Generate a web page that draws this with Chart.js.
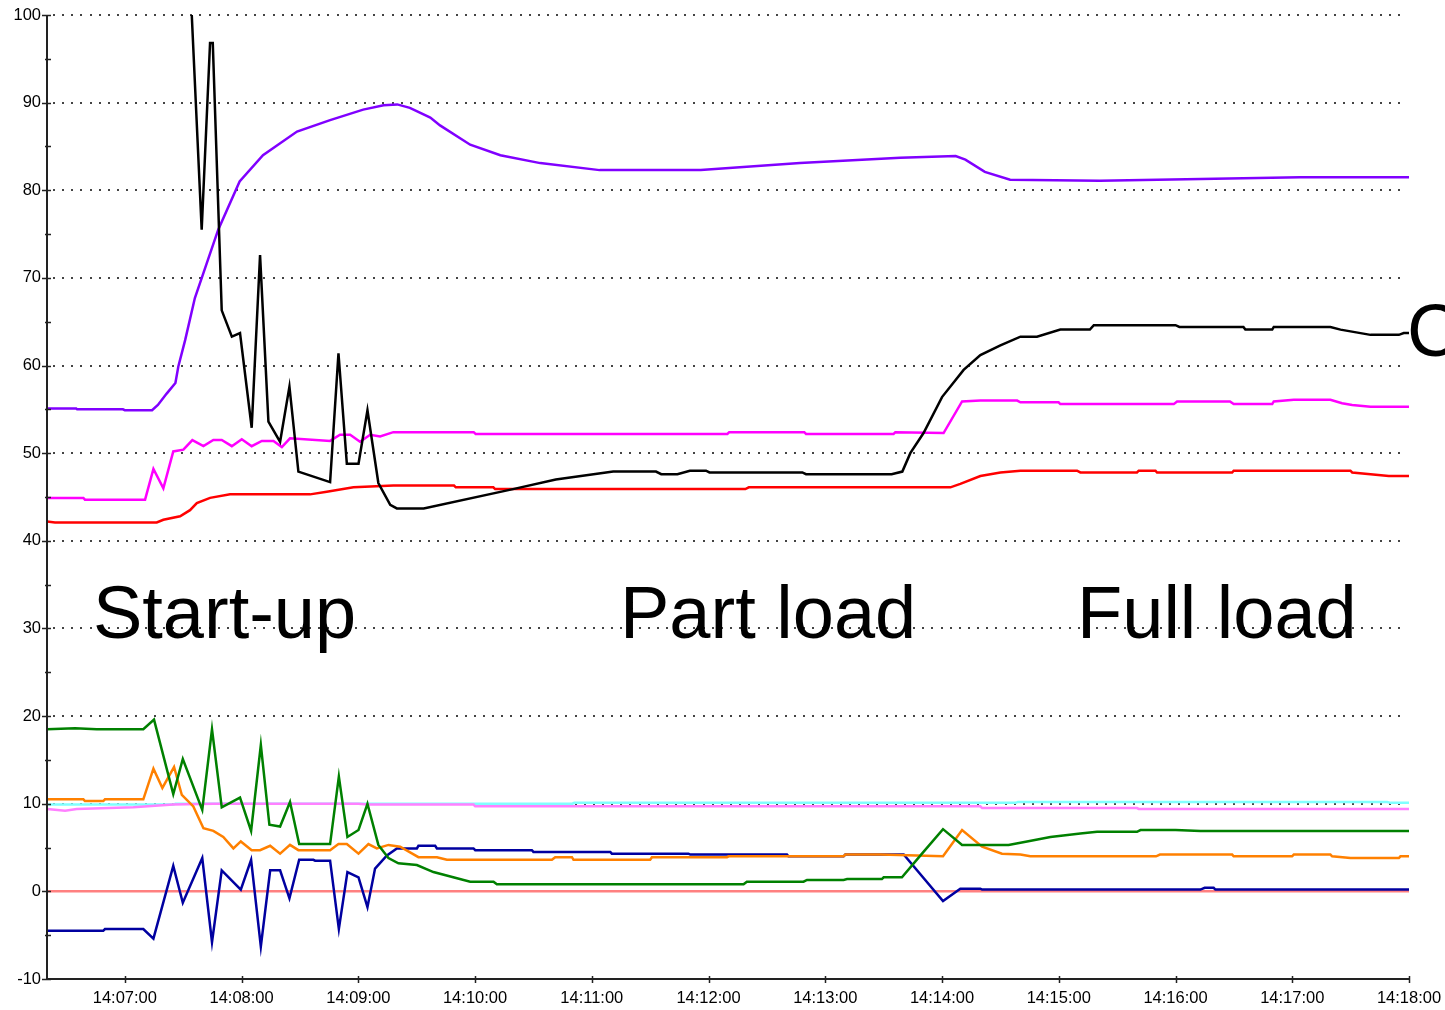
<!DOCTYPE html>
<html>
<head>
<meta charset="utf-8">
<title>Start-up / Part load / Full load</title>
<script src="https://cdn.jsdelivr.net/npm/chart.js@4.4.1/dist/chart.umd.min.js"></script>
<style>
  html, body { margin: 0; padding: 0; background: #fff; }
  #wrap { width: 1445px; height: 1010px; position: relative; }
</style>
</head>
<body>
<div id="wrap"><canvas id="trendChart"></canvas></div>
<script>
// time axis in seconds after 14:00:00, values as [t, value]
const xTicks = [420, 480, 540, 600, 660, 720, 780, 840, 900, 960, 1020, 1080];
const xTickLabels = ["14:07:00", "14:08:00", "14:09:00", "14:10:00", "14:11:00", "14:12:00",
  "14:13:00", "14:14:00", "14:15:00", "14:16:00", "14:17:00", "14:18:00"];

const violetLine = [[380,55.1],[395,55.1],[395.5,55.0],[419,55.0],[420,54.9],[434,54.9],[437,55.5],
  [441.5,56.8],[446,58.0],[447.5,59.9],[451,62.9],[456,67.7],[468,75.5],[479,81.0],[491,84.0],
  [508.5,86.7],[525.5,88.0],[542.5,89.2],[553,89.7],[560,89.8],[566.5,89.4],[577,88.3],[582,87.4],
  [597.5,85.2],[613,84.0],[633.5,83.1],[664,82.3],[716,82.3],[767,83.1],[818.5,83.7],[847,83.9],
  [852,83.5],[862,82.1],[875,81.2],[921,81.1],[973,81.3],[1024,81.5],[1080,81.5]];

const blackLine = [[453,103],[454.4,100],[459.5,75.5],[463.8,96.8],[465.2,96.8],[469.8,66.3],
  [475,63.3],[479.2,63.7],[485.2,52.9],[489.5,72.6],[493.8,53.6],[499.8,51.3],[504.6,57.6],
  [509.2,47.9],[525.5,46.7],[529.8,61.4],[534.1,48.8],[540.1,48.8],[544.7,54.9],[550.3,46.6],
  [556.4,44.1],[559.8,43.7],[573.6,43.7],[619.5,45.9],[641.5,47.0],[671,47.9],[693,47.9],
  [695.7,47.6],[704,47.6],[710.4,48.0],[718.7,48.0],[720.5,47.8],[768.2,47.8],[770.1,47.6],
  [814.1,47.6],[819.6,47.9],[823.7,50.0],[830.5,52.3],[840,56.4],[851.1,59.5],[859.7,61.2],
  [870,62.3],[880.3,63.3],[888.8,63.3],[900.8,64.1],[916,64.1],[918,64.6],[960,64.6],[962,64.4],
  [994.9,64.4],[995.9,64.1],[1009.7,64.1],[1010.5,64.4],[1039.6,64.4],[1044.8,64.1],
  [1060.2,63.5],[1074.8,63.5],[1077.3,63.7],[1080,63.7]];

const magentaLine = [[380,44.9],[398.7,44.9],[399.5,44.7],[430.4,44.7],[434.7,48.2],[439.8,46.0],
  [444.9,50.2],[450.1,50.4],[454.7,51.5],[460.4,50.8],[465.5,51.5],[469.8,51.5],[475,50.8],
  [480.1,51.6],[485.2,50.8],[490.4,51.4],[496.4,51.4],[500.7,50.7],[504.9,51.7],[525.5,51.4],
  [530.6,52.1],[535.8,52.1],[540.9,51.3],[546.1,52.1],[551.2,51.9],[558,52.4],[599.3,52.4],
  [600.3,52.2],[729.7,52.2],[730.6,52.4],[769.2,52.4],[770.1,52.2],[815.1,52.2],[816,52.4],
  [840.8,52.3],[850.3,55.9],[859.7,56.0],[878.6,56.0],[880.3,55.8],[899.9,55.8],[900.8,55.6],
  [959.1,55.6],[960.8,55.9],[988,55.9],[989.9,55.6],[1009.7,55.6],[1010.5,55.9],[1020.8,56.1],
  [1039.6,56.1],[1045.6,55.7],[1050.8,55.5],[1060.2,55.3],[1080,55.3]];

const redLine = [[380,42.2],[384.1,42.1],[436.4,42.1],[439.8,42.4],[448.4,42.8],[453.5,43.5],
  [457,44.3],[463.8,44.9],[474.1,45.3],[515.2,45.3],[523.8,45.6],[537.5,46.1],[558,46.3],
  [589.2,46.3],[590.1,46.1],[609.4,46.1],[610.3,45.9],[738.9,45.9],[740.7,46.1],[844.3,46.1],
  [849.4,46.5],[859.7,47.4],[870,47.8],[880.3,48.0],[909.4,48.0],[911.1,47.8],[940.2,47.8],
  [941.1,48.0],[949.7,48.0],[950.5,47.8],[989.1,47.8],[989.9,48.0],[1049.9,48.0],[1050.8,47.8],
  [1060.2,47.6],[1069.6,47.4],[1080,47.4]];

const greenLine = [[380,18.5],[394.4,18.6],[405.6,18.5],[429.5,18.5],[435,19.6],[444.9,11.1],
  [449.8,15.1],[459.8,9.3],[464.8,18.5],[469.8,9.6],[479.2,10.7],[484.9,6.9],[489.9,16.7],
  [494.3,7.6],[499.8,7.4],[504.9,10.2],[509.6,5.4],[525.5,5.4],[530,13.1],[534.4,6.2],[540.1,7.0],
  [544.7,10.0],[550.3,5.3],[555.5,3.8],[560.6,3.2],[570.1,3.0],[578.6,2.2],[597.5,1.1],
  [609.5,1.1],[611.2,0.8],[738,0.8],[739.7,1.1],[768.8,1.1],[770.6,1.3],[789.4,1.3],[791.2,1.4],
  [809.1,1.4],[810,1.6],[819.4,1.6],[829.7,4.3],[840.5,7.1],[850.3,5.3],[874.2,5.3],[883.7,5.7],
  [895.7,6.2],[911.1,6.6],[919.7,6.8],[940.2,6.8],[942,7.0],[960,7.0],[972.8,6.9],[1080,6.9]];

const orangeLine = [[380,10.5],[398.7,10.5],[399.5,10.3],[408.9,10.3],[409.8,10.5],[429.5,10.5],
  [434.7,14.0],[439.3,11.8],[445.3,14.2],[449.3,11.0],[455.2,9.7],[460.4,7.2],[465.5,6.9],
  [470.6,6.2],[475.8,4.9],[479.6,5.7],[485.2,4.7],[489.5,4.7],[494.7,5.2],[499.8,4.3],[504.9,5.3],
  [509.2,4.7],[525.5,4.7],[529.8,5.4],[534.1,5.4],[540.1,4.3],[545.2,5.4],[549.5,4.9],[555.5,5.3],
  [561.5,5.1],[570.9,3.9],[580.4,3.9],[585.5,3.6],[639.5,3.6],[641.2,3.9],[649.8,3.9],[650.6,3.6],
  [690,3.6],[690.9,3.9],[729.5,3.9],[730.3,4.0],[789.4,4.0],[790.3,4.2],[808.3,4.2],[840.5,4.0],
  [850.3,7.0],[860.6,5.1],[870.8,4.3],[880.3,4.2],[885.4,4.0],[950,4.0],[952,4.2],[989.1,4.2],
  [989.9,4.0],[1019.9,4.0],[1020.8,4.2],[1039.6,4.2],[1040.5,4.0],[1049.9,3.8],[1074.8,3.8],
  [1075.6,4.0],[1080,4.0]];

const navyLine = [[380,-4.5],[408.9,-4.5],[409.8,-4.3],[429.5,-4.3],[434.7,-5.4],[444.9,2.9],
  [449.8,-1.3],[459.8,3.8],[464.8,-5.8],[469.8,2.4],[479.6,0.2],[484.9,3.6],[489.9,-6.3],
  [494.7,2.4],[499.8,2.4],[504.6,-0.8],[509.6,3.6],[516.9,3.6],[517.8,3.5],[525.5,3.5],[530,-4.3],
  [534.4,2.2],[540.1,1.6],[544.7,-1.8],[548.6,2.6],[554.7,4.1],[559.8,4.9],[570.1,4.9],[570.9,5.2],
  [579.5,5.2],[580.4,4.9],[599.2,4.9],[600.1,4.7],[629.2,4.7],[630,4.5],[669.5,4.5],[670.3,4.3],
  [709.7,4.3],[710.6,4.2],[760.3,4.2],[761.1,4.0],[789.4,4.0],[790.3,4.2],[820.3,4.2],
  [840.5,-1.1],[849.4,0.3],[859.7,0.3],[860.6,0.2],[972.8,0.2],[975,0.4],[979.6,0.4],
  [980.5,0.2],[1080,0.2]];

const cyanLine = [[380,9.9],[445,9.9],[446,10.0],[650,10.0],[651,10.1],[878,10.1],[879,10.2],
  [1068.8,10.2],[1070.5,10.1],[1080,10.1]];

const pinkLine = [[380,9.4],[389.3,9.2],[395.3,9.4],[424.4,9.6],[444.9,9.9],[465.5,10.0],
  [540,10.0],[545,9.9],[599.2,9.9],[600.1,9.7],[859.7,9.7],[860.6,9.5],[940.2,9.5],[941.1,9.4],
  [1080,9.4]];

const salmonLine = [[380,0],[1080,0]];

// big phase captions, anchored in data units (t, value at baseline)
const notes = [
  { text: "Start-up", t: 403.6, v: 28.9 },
  { text: "Part load", t: 674.5, v: 28.9 },
  { text: "Full load", t: 909.4, v: 28.9 },
  { text: "C", t: 1079, v: 61.1 },
];

const gridAndAxes = {
  id: "gridAndAxes",
  beforeDatasetsDraw(chart) {
    const { ctx, chartArea: a, scales: { y } } = chart;
    ctx.save();
    ctx.fillStyle = "#444";
    y.ticks.forEach((tk) => {
      if (tk.value <= y.min) return;
      const py = Math.round(y.getPixelForValue(tk.value));
      for (let px = a.left + 6; px < a.right - 2; px += 9.15) {
        ctx.fillRect(Math.round(px), py - 1, 2, 2);
      }
    });
    ctx.restore();
  },
  afterDatasetsDraw(chart) {
    const { ctx, chartArea: a, scales: { x, y } } = chart;
    ctx.save();
    ctx.strokeStyle = "#222";
    ctx.lineWidth = 2;
    ctx.beginPath();
    ctx.moveTo(a.left, a.top);
    ctx.lineTo(a.left, a.bottom);
    ctx.lineTo(a.right, a.bottom);
    ctx.stroke();
    ctx.lineWidth = 1.5;
    ctx.beginPath();
    for (let v = y.min; v <= y.max; v += 5) {
      const py = Math.round(y.getPixelForValue(v)) + 0.5;
      const major = v % 10 === 0;
      ctx.moveTo(a.left - (major ? 5 : 2), py);
      ctx.lineTo(a.left + 4, py);
    }
    xTicks.forEach((t) => {
      const px = Math.round(x.getPixelForValue(t)) + 0.5;
      ctx.moveTo(px, a.bottom - 3);
      ctx.lineTo(px, a.bottom + 4);
    });
    ctx.stroke();
    ctx.restore();
  },
  afterDraw(chart) {
    const { ctx, scales: { x, y } } = chart;
    ctx.save();
    ctx.fillStyle = "#000";
    ctx.font = '74px "Liberation Sans", Arial, sans-serif';
    ctx.textBaseline = "alphabetic";
    notes.forEach((n) => ctx.fillText(n.text, x.getPixelForValue(n.t), y.getPixelForValue(n.v)));
    ctx.restore();
  },
};

function lineSet(data, color) {
  return { data, borderColor: color, borderWidth: 2.5, pointRadius: 0, tension: 0, fill: false };
}

new Chart(document.getElementById("trendChart"), {
  type: "line",
  data: {
    datasets: [
      lineSet(blackLine, "#000000"),
      lineSet(violetLine, "#8000ff"),
      lineSet(magentaLine, "#ff00ff"),
      lineSet(redLine, "#ff0000"),
      lineSet(greenLine, "#008000"),
      lineSet(orangeLine, "#ff8000"),
      lineSet(navyLine, "#0000a0"),
      lineSet(pinkLine, "#ff80ff"),
      lineSet(cyanLine, "#80ffff"),
      lineSet(salmonLine, "#ff8080"),
    ],
  },
  options: {
    responsive: true,
    maintainAspectRatio: false,
    animation: false,
    layout: { padding: { top: 15, right: 36, left: 0, bottom: 0 } },
    plugins: { legend: { display: false }, tooltip: { enabled: false } },
    scales: {
      x: {
        type: "linear",
        min: 380,
        max: 1080,
        afterBuildTicks: (s) => { s.ticks = xTicks.map((v) => ({ value: v })); },
        afterFit: (s) => { s.height = 31; s.paddingLeft = 0; s.paddingRight = 0; },
        grid: { display: false, drawTicks: false },
        border: { display: false },
        ticks: {
          autoSkip: false,
          maxRotation: 0,
          padding: 10,
          color: "#000",
          font: { family: '"Liberation Sans", Arial, sans-serif', size: 16.5 },
          callback: (v, i) => xTickLabels[i],
        },
      },
      y: {
        min: -10,
        max: 100,
        afterFit: (s) => { s.width = 47; s.paddingTop = 0; s.paddingBottom = 0; },
        grid: { display: false, drawTicks: false },
        border: { display: false },
        ticks: {
          stepSize: 10,
          padding: 6,
          color: "#000",
          font: { family: '"Liberation Sans", Arial, sans-serif', size: 16.5 },
        },
      },
    },
  },
  plugins: [gridAndAxes],
});
</script>
</body>
</html>
